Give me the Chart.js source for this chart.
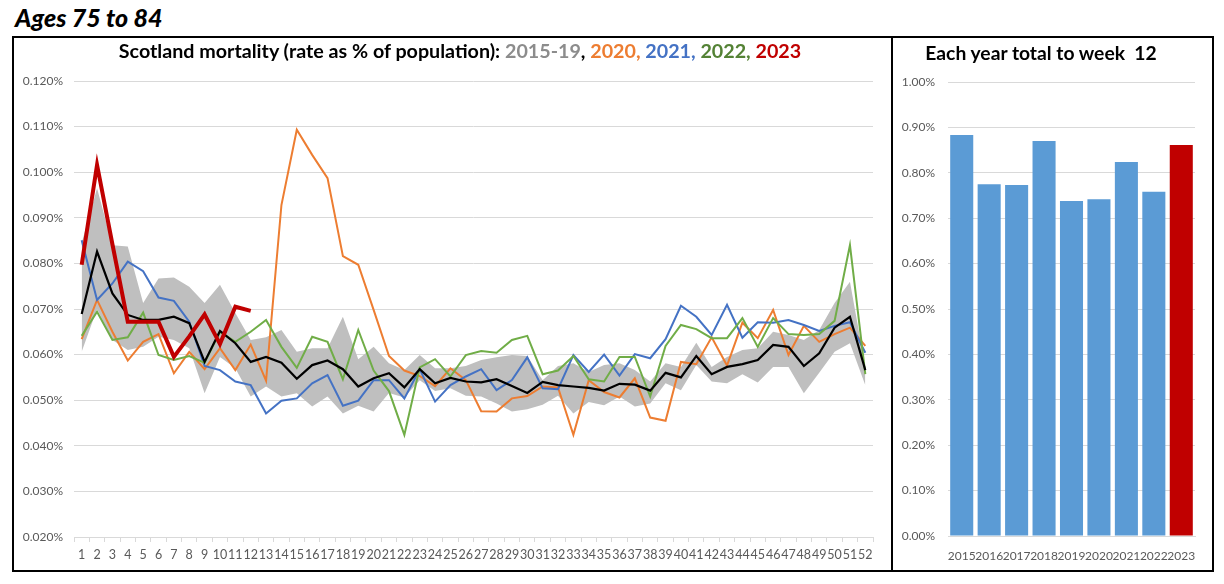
<!DOCTYPE html>
<html>
<head>
<meta charset="utf-8">
<script src="https://cdn.jsdelivr.net/npm/chart.js@4.4.1/dist/chart.umd.min.js"></script>
<style>
  html, body { margin:0; padding:0; background:#fff; width:1224px; height:584px; overflow:hidden; font-family: Lato, "Open Sans", sans-serif; }
  #heading { position:absolute; left:15px; top:2px; font: italic 900 25px Lato, sans-serif; color:#000; white-space:nowrap; }
  #frame { position:absolute; left:12px; top:36px; width:1202px; height:536px; box-sizing:border-box; border:2px solid #000; }
  #divider { position:absolute; left:891px; top:36px; width:2px; height:536px; background:#000; }
  #leftWrap { position:absolute; left:14px; top:38px; width:877px; height:532px; }
  #rightWrap { position:absolute; left:893px; top:38px; width:319px; height:532px; }
  .ttl { position:absolute; font: 700 19.7px Lato, sans-serif; color:#000; text-align:center; white-space:pre; line-height:22px; }
  #leftTitle { left:0px; width:920px; top:40px; }
  #rightTitle { left:893px; width:296px; top:42px; font-size:19.3px; }
</style>
</head>
<body>
<div id="heading">Ages 75 to 84</div>
<div id="frame"></div>
<div id="divider"></div>
<div id="leftWrap"><canvas id="left" width="877" height="532"></canvas></div>
<div id="rightWrap"><canvas id="right" width="319" height="532"></canvas></div>
<div class="ttl" id="leftTitle">Scotland mortality (rate as % of population): <span style="color:#8c8c8c">2015-19</span>, <span style="color:#ED7D31">2020,</span> <span style="color:#4472C4">2021,</span> <span style="color:#548235">2022,</span> <span style="color:#C00000">2023</span></div>
<div class="ttl" id="rightTitle">Each year total to week  12</div>
<script>
// ---- data (rate as % of population) ----
const weeks = Array.from({length:52}, (_, i) => String(i + 1));

const rate2023 = [0.0797,0.1016,0.0842,0.0672,0.0672,0.0672,0.0595,0.0640,0.0688,0.0623,0.0705,0.0696];

const mean2015_19 = [0.0689,0.0826,0.0734,0.0687,0.0676,0.0676,0.0683,0.0669,0.0584,0.0652,
  0.0625,0.0584,0.0595,0.0582,0.0547,0.0577,0.0587,0.0568,0.0530,0.0548,
  0.0559,0.0528,0.0568,0.0537,0.0549,0.0541,0.0539,0.0546,0.0531,0.0516,
  0.0540,0.0533,0.0530,0.0527,0.0521,0.0536,0.0534,0.0521,0.0560,0.0550,
  0.0597,0.0557,0.0573,0.0579,0.0588,0.0621,0.0617,0.0575,0.0603,0.0659,
  0.0683,0.0566];

const max2015_19 = [0.0845,0.0965,0.0840,0.0837,0.0713,0.0767,0.0769,0.0749,0.0713,0.0753,
  0.0691,0.0632,0.0638,0.0654,0.0606,0.0614,0.0614,0.0683,0.0590,0.0617,
  0.0581,0.0566,0.0599,0.0570,0.0570,0.0575,0.0588,0.0594,0.0599,0.0597,
  0.0544,0.0575,0.0581,0.0562,0.0577,0.0581,0.0566,0.0541,0.0581,0.0573,
  0.0626,0.0573,0.0595,0.0610,0.0614,0.0650,0.0643,0.0632,0.0654,0.0713,
  0.0760,0.0573];

const min2015_19 = [0.0606,0.0700,0.0632,0.0610,0.0617,0.0639,0.0632,0.0614,0.0515,0.0595,
  0.0570,0.0508,0.0530,0.0508,0.0515,0.0486,0.0508,0.0471,0.0488,0.0475,
  0.0516,0.0506,0.0544,0.0520,0.0526,0.0510,0.0508,0.0493,0.0475,0.0480,
  0.0490,0.0510,0.0471,0.0496,0.0489,0.0508,0.0486,0.0493,0.0537,0.0522,
  0.0577,0.0541,0.0537,0.0557,0.0539,0.0573,0.0573,0.0515,0.0560,0.0606,
  0.0625,0.0533];

const rate2020 = [0.0634,0.0720,0.0650,0.0587,0.0628,0.0645,0.0559,0.0606,0.0568,0.0614,
  0.0566,0.0622,0.0543,0.0928,0.1093,0.1038,0.0987,0.0816,0.0797,0.0698,
  0.0597,0.0565,0.0553,0.0531,0.0570,0.0544,0.0476,0.0475,0.0504,0.0509,
  0.0530,0.0528,0.0424,0.0544,0.0518,0.0506,0.0548,0.0462,0.0455,0.0584,
  0.0579,0.0638,0.0576,0.0670,0.0636,0.0698,0.0599,0.0663,0.0628,0.0645,
  0.0659,0.0619];

const rate2021 = [0.0851,0.0720,0.0756,0.0804,0.0783,0.0725,0.0718,0.0672,0.0575,0.0566,
  0.0541,0.0533,0.0471,0.0499,0.0504,0.0537,0.0555,0.0488,0.0499,0.0544,
  0.0544,0.0504,0.0568,0.0497,0.0533,0.0552,0.0568,0.0522,0.0544,0.0594,
  0.0526,0.0524,0.0599,0.0562,0.0600,0.0554,0.0601,0.0592,0.0634,0.0707,
  0.0683,0.0643,0.0709,0.0637,0.0671,0.0670,0.0676,0.0665,0.0652,0.0663,
  0.0671,0.0604];

const rate2022 = [0.0641,0.0694,0.0632,0.0638,0.0692,0.0599,0.0588,0.0597,0.0582,0.0650,
  0.0628,0.0650,0.0676,0.0617,0.0571,0.0639,0.0628,0.0546,0.0654,0.0565,
  0.0520,0.0424,0.0572,0.0590,0.0552,0.0599,0.0608,0.0604,0.0632,0.0641,
  0.0557,0.0565,0.0597,0.0546,0.0541,0.0595,0.0595,0.0508,0.0619,0.0665,
  0.0656,0.0636,0.0636,0.0680,0.0617,0.0680,0.0645,0.0643,0.0645,0.0674,
  0.0840,0.0557];

const years = ['2015','2016','2017','2018','2019','2020','2021','2022','2023'];
const totalToWeek12 = [0.883,0.775,0.773,0.870,0.738,0.742,0.824,0.758,0.861];

// ---- styles ----
const TICK_FONT = { family: 'Lato, sans-serif', size: 12 };
const TICK_COLOR = '#595959';
const GRID_COLOR = '#d9d9d9';

Chart.defaults.font.family = 'Lato, sans-serif';

function line(label, data, color, width, order) {
  return { label, data, borderColor: color, borderWidth: width, pointRadius: 0, tension: 0, fill: false, order };
}

new Chart(document.getElementById('left'), {
  type: 'line',
  data: {
    labels: weeks,
    datasets: [
      line('2023', rate2023, '#C00000', 4, 0),
      line('2015-19 mean', mean2015_19, '#000000', 2.2, 1),
      line('2022', rate2022, '#70AD47', 2, 2),
      line('2021', rate2021, '#4472C4', 2, 3),
      line('2020', rate2020, '#ED7D31', 2, 4),
      { label: '2015-19 min', data: min2015_19, borderWidth: 0, pointRadius: 0, tension: 0, fill: false, order: 6, borderColor: 'rgba(0,0,0,0)' },
      { label: '2015-19 max', data: max2015_19, borderWidth: 0, pointRadius: 0, tension: 0, fill: '-1', backgroundColor: '#bfbfbf', order: 5, borderColor: 'rgba(0,0,0,0)' }
    ]
  },
  options: {
    responsive: false,
    animation: false,
    devicePixelRatio: 1,
    layout: { padding: { top: 43, right: 18, left: 0, bottom: 0 } },
    plugins: { legend: { display: false }, tooltip: { enabled: false }, title: { display: false } },
    scales: {
      x: {
        offset: true,
        grid: { display: true, drawOnChartArea: false, drawTicks: true, tickLength: 5, color: GRID_COLOR, offset: true },
        border: { display: true, color: GRID_COLOR },
        ticks: { autoSkip: false, maxRotation: 0, minRotation: 0, font: { family: 'Lato, sans-serif', size: 12.5 }, color: TICK_COLOR, padding: 5 },
        afterFit: s => { s.height = 33; }
      },
      y: {
        min: 0.02, max: 0.12,
        grid: { color: GRID_COLOR, drawTicks: false },
        border: { display: false },
        ticks: { stepSize: 0.01, font: TICK_FONT, color: TICK_COLOR, padding: 11, callback: v => v.toFixed(3) + '%' },
        afterFit: s => { s.width = 60; }
      }
    }
  }
});

new Chart(document.getElementById('right'), {
  type: 'bar',
  data: {
    labels: years,
    datasets: [{
      data: totalToWeek12,
      backgroundColor: years.map(y => y === '2023' ? '#C00000' : '#5B9BD5'),
      barPercentage: 0.84,
      categoryPercentage: 1.0
    }]
  },
  options: {
    responsive: false,
    animation: false,
    devicePixelRatio: 1,
    layout: { padding: { top: 44, right: 17, left: 0, bottom: 0 } },
    plugins: { legend: { display: false }, tooltip: { enabled: false } },
    scales: {
      x: {
        grid: { display: false },
        border: { display: true, color: GRID_COLOR },
        ticks: { autoSkip: false, maxRotation: 0, minRotation: 0, font: TICK_FONT, color: TICK_COLOR, padding: 5 },
        afterFit: s => { s.height = 34; }
      },
      y: {
        min: 0, max: 1.0,
        grid: { color: GRID_COLOR, drawTicks: false },
        border: { display: false },
        ticks: { stepSize: 0.1, font: TICK_FONT, color: TICK_COLOR, padding: 13, callback: v => v.toFixed(2) + '%' },
        afterFit: s => { s.width = 55; }
      }
    }
  }
});
</script>
</body>
</html>
